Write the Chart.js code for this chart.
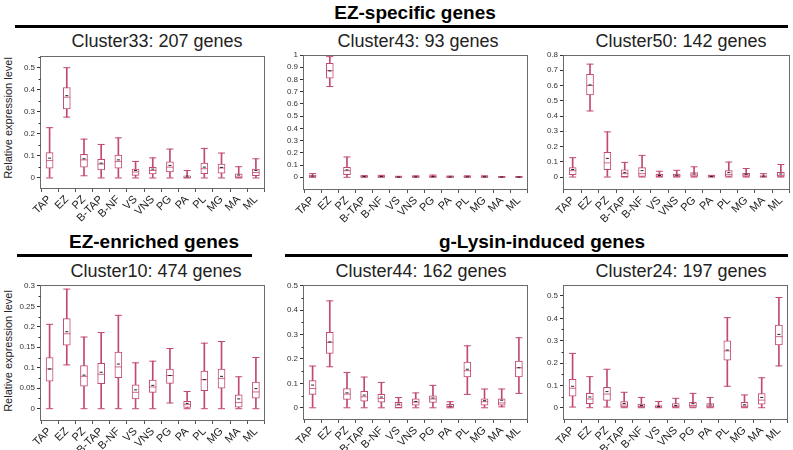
<!DOCTYPE html>
<html><head><meta charset="utf-8">
<script src="https://cdn.jsdelivr.net/npm/chart.js@4.4.1/dist/chart.umd.min.js"></script>
<style>
html,body{margin:0;padding:0;background:#fff;}
#wrap{position:relative;width:793px;height:450px;overflow:hidden;font-family:'Liberation Sans',Arial,sans-serif;}
.hdr{position:absolute;font-weight:bold;font-size:19px;line-height:1;color:#000;white-space:nowrap;transform:translate(-50%,-50%);}
.rule{position:absolute;height:3px;background:#000;}
.ttl{position:absolute;font-size:18px;line-height:1;color:#222;white-space:nowrap;transform:translate(-50%,-50%);}
.ylab{position:absolute;font-size:11px;line-height:1;color:#222;white-space:nowrap;transform:translate(-50%,-50%) rotate(-90deg);}
canvas{position:absolute;}
</style></head>
<body><div id="wrap">
<div class="hdr" style="left:415px;top:12px;">EZ-specific genes</div>
<div class="rule" style="left:15px;top:25px;width:773px;"></div>
<div class="hdr" style="left:154px;top:241px;">EZ-enriched genes</div>
<div class="rule" style="left:17px;top:254px;width:235px;"></div>
<div class="hdr" style="left:542px;top:241px;">g-Lysin-induced genes</div>
<div class="rule" style="left:285px;top:254px;width:503px;"></div>
<div class="ttl" style="left:157px;top:41px;">Cluster33: 207 genes</div>
<div class="ttl" style="left:418px;top:41px;">Cluster43: 93 genes</div>
<div class="ttl" style="left:681px;top:41px;">Cluster50: 142 genes</div>
<div class="ttl" style="left:156px;top:271px;">Cluster10: 474 genes</div>
<div class="ttl" style="left:421px;top:271px;">Cluster44: 162 genes</div>
<div class="ttl" style="left:681px;top:271px;">Cluster24: 197 genes</div>
<div class="ylab" style="left:8px;top:118px;">Relative expression level</div>
<div class="ylab" style="left:8px;top:351px;">Relative expression level</div>
</div>
<script>
// ---------- DATA ----------
const CATEGORIES = ['TAP','EZ','PZ','B-TAP','B-NF','VS','VNS','PG','PA','PL','MG','MA','ML'];

// Cluster33
const C33_MAX  = [0.228,0.500,0.176,0.152,0.182,0.075,0.091,0.131,0.034,0.134,0.113,0.051,0.087];
const C33_Q3   = [0.115,0.410,0.107,0.085,0.104,0.040,0.048,0.073,0.010,0.067,0.063,0.019,0.040];
const C33_MED  = [0.079,0.366,0.082,0.063,0.075,0.027,0.034,0.049,0.002,0.042,0.045,0.004,0.025];
const C33_MEAN = [0.090,0.373,0.087,0.067,0.082,0.034,0.040,0.057,0.008,0.049,0.048,0.013,0.034];
const C33_Q1   = [0.045,0.313,0.049,0.037,0.045,0.012,0.018,0.027,0.000,0.019,0.022,0.000,0.010];
const C33_MIN  = [0.000,0.276,0.010,0.000,0.000,0.000,0.000,0.000,0.000,0.000,0.000,0.000,0.000];

// Cluster43
const C43_MAX  = [0.030,0.986,0.166,0.014,0.016,0.008,0.012,0.018,0.010,0.012,0.012,0.006,0.006];
const C43_Q3   = [0.016,0.932,0.082,0.010,0.012,0.004,0.008,0.012,0.007,0.008,0.008,0.004,0.004];
const C43_MED  = [0.003,0.872,0.054,0.004,0.005,0.001,0.002,0.005,0.002,0.003,0.003,0.001,0.001];
const C43_MEAN = [0.010,0.870,0.060,0.006,0.007,0.002,0.004,0.006,0.003,0.004,0.004,0.002,0.002];
const C43_Q1   = [0.000,0.810,0.022,0.000,0.000,0.000,0.000,0.000,0.000,0.000,0.000,0.000,0.000];
const C43_MIN  = [0.000,0.742,0.000,0.000,0.000,0.000,0.000,0.000,0.000,0.000,0.000,0.000,0.000];

// Cluster50
const C50_MAX  = [0.127,0.740,0.296,0.096,0.142,0.038,0.044,0.067,0.011,0.098,0.056,0.022,0.082];
const C50_Q3   = [0.062,0.673,0.162,0.047,0.062,0.018,0.020,0.029,0.009,0.042,0.024,0.009,0.031];
const C50_MED  = [0.042,0.600,0.093,0.022,0.022,0.004,0.007,0.013,0.002,0.016,0.013,0.002,0.011];
const C50_MEAN = [0.049,0.604,0.122,0.029,0.042,0.010,0.012,0.020,0.004,0.029,0.018,0.006,0.020];
const C50_Q1   = [0.016,0.538,0.049,0.002,0.000,0.000,0.000,0.000,0.000,0.000,0.000,0.000,0.000];
const C50_MIN  = [0.000,0.433,0.000,0.000,0.000,0.000,0.000,0.000,0.000,0.000,0.000,0.000,0.000];

// Cluster10
const C10_MAX  = [0.206,0.292,0.175,0.186,0.228,0.112,0.116,0.147,0.042,0.160,0.164,0.078,0.125];
const C10_Q3   = [0.125,0.220,0.105,0.111,0.138,0.058,0.070,0.097,0.018,0.092,0.097,0.034,0.065];
const C10_MED  = [0.097,0.183,0.079,0.084,0.102,0.040,0.053,0.081,0.010,0.071,0.074,0.015,0.041];
const C10_MEAN = [0.097,0.188,0.082,0.089,0.109,0.046,0.057,0.081,0.013,0.071,0.079,0.024,0.049];
const C10_Q1   = [0.067,0.155,0.055,0.061,0.076,0.024,0.040,0.062,0.003,0.044,0.050,0.004,0.026];
const C10_MIN  = [0.000,0.107,0.000,0.000,0.000,0.000,0.000,0.014,0.000,0.000,0.000,0.000,0.000];

// Cluster44
const C44_MAX  = [0.171,0.438,0.145,0.126,0.104,0.042,0.061,0.092,0.025,0.254,0.077,0.077,0.287];
const C44_Q3   = [0.111,0.309,0.079,0.067,0.055,0.022,0.037,0.049,0.014,0.187,0.037,0.037,0.191];
const C44_MED  = [0.079,0.268,0.056,0.045,0.038,0.011,0.023,0.036,0.004,0.152,0.025,0.020,0.164];
const C44_MEAN = [0.093,0.270,0.061,0.052,0.044,0.015,0.026,0.040,0.007,0.158,0.029,0.031,0.164];
const C44_Q1   = [0.055,0.223,0.034,0.027,0.023,0.001,0.011,0.022,0.000,0.126,0.011,0.011,0.126];
const C44_MIN  = [0.000,0.168,0.000,0.000,0.000,0.000,0.000,0.000,0.000,0.055,0.000,0.004,0.059];

// Cluster24
const C24_MAX  = [0.243,0.139,0.172,0.069,0.046,0.028,0.042,0.064,0.046,0.403,0.057,0.134,0.493];
const C24_Q3   = [0.127,0.064,0.091,0.027,0.016,0.010,0.018,0.024,0.018,0.299,0.024,0.063,0.370];
const C24_MED  = [0.087,0.039,0.061,0.012,0.006,0.003,0.006,0.010,0.007,0.254,0.007,0.034,0.318];
const C24_MEAN = [0.096,0.048,0.072,0.019,0.010,0.005,0.010,0.018,0.012,0.258,0.013,0.046,0.328];
const C24_Q1   = [0.052,0.018,0.033,0.004,0.000,0.000,0.000,0.000,0.000,0.213,0.000,0.016,0.281];
const C24_MIN  = [0.003,0.000,0.003,0.000,0.000,0.000,0.000,0.000,0.000,0.096,0.000,0.000,0.187];

// Tick values and labels
const TICKS_05 = [0,0.1,0.2,0.3,0.4,0.5];
const LABELS_05 = ['0','0.1','0.2','0.3','0.4','0.5'];
const MINOR_055 = [0.05,0.15,0.25,0.35,0.45,0.55];
const TICKS_10 = [0,0.1,0.2,0.3,0.4,0.5,0.6,0.7,0.8,0.9,1];
const LABELS_10 = ['0','0.1','0.2','0.3','0.4','0.5','0.6','0.7','0.8','0.9','1'];
const TICKS_08 = [0,0.1,0.2,0.3,0.4,0.5,0.6,0.7,0.8];
const LABELS_08 = ['0','0.1','0.2','0.3','0.4','0.5','0.6','0.7','0.8'];
const TICKS_03 = [0,0.05,0.1,0.15,0.2,0.25,0.3];
const LABELS_03 = ['0','0.05','0.1','0.15','0.2','0.25','0.3'];
const MINOR_03 = [0.025,0.075,0.125,0.175,0.225,0.275];

// ---------- LAYOUT / STYLE ----------
const FONT = "'Liberation Sans', Arial, sans-serif";
const BOX = '#c24a6e';
const MEDC = 'rgba(200,90,125,0.9)';
const MEANC = '#222';
const YW = 40, XH = 45, PT = 10, PR = 4;

const panels = [
  {rect:[41,56,265,189],  ymin:-0.05, ymax:0.553, ticks:TICKS_05, labels:LABELS_05, minor:MINOR_055,
   d:[C33_MIN,C33_Q1,C33_MED,C33_Q3,C33_MAX,C33_MEAN]},
  {rect:[304,55,528,190], ymin:-0.104, ymax:1.0, ticks:TICKS_10, labels:LABELS_10, minor:[],
   d:[C43_MIN,C43_Q1,C43_MED,C43_Q3,C43_MAX,C43_MEAN]},
  {rect:[564,55,790,190], ymin:-0.085, ymax:0.8, ticks:TICKS_08, labels:LABELS_08, minor:[],
   d:[C50_MIN,C50_Q1,C50_MED,C50_Q3,C50_MAX,C50_MEAN]},
  {rect:[41,285,265,421], ymin:-0.03, ymax:0.302, ticks:TICKS_03, labels:LABELS_03, minor:MINOR_03,
   d:[C10_MIN,C10_Q1,C10_MED,C10_Q3,C10_MAX,C10_MEAN]},
  {rect:[304,285,528,420], ymin:-0.05, ymax:0.503, ticks:TICKS_05, labels:LABELS_05, minor:MINOR_055.slice(0,5),
   d:[C44_MIN,C44_Q1,C44_MED,C44_Q3,C44_MAX,C44_MEAN]},
  {rect:[564,285,788,420], ymin:-0.055, ymax:0.549, ticks:TICKS_05, labels:LABELS_05, minor:MINOR_055.slice(0,5),
   d:[C24_MIN,C24_Q1,C24_MED,C24_Q3,C24_MAX,C24_MEAN]}
];

const framePlugin = {
  id: 'frame',
  afterDraw(chart, args, opts) {
    const ctx = chart.ctx, a = chart.chartArea, ys = chart.scales.y;
    ctx.save();
    ctx.strokeStyle = '#6b6b6b';
    ctx.lineWidth = 1;
    const x0 = Math.round(a.left) - 0.5, y0 = Math.round(a.top) + 0.5;
    const x1 = Math.round(a.right) - 0.5, y1 = Math.round(a.bottom) - 0.5;
    ctx.strokeRect(x0, y0, x1 - x0, y1 - y0);
    ctx.strokeStyle = '#333';
    (opts.minor || []).forEach(v => {
      const py = Math.round(ys.getPixelForValue(v)) + 0.5;
      ctx.beginPath(); ctx.moveTo(x0 - 2, py); ctx.lineTo(x0, py); ctx.stroke();
    });
    ctx.restore();
  }
};

const wrap = document.getElementById('wrap');
Chart.defaults.font.family = FONT;

panels.forEach(p => {
  const [L, T, R, B] = p.rect;
  const cv = document.createElement('canvas');
  const W = (R - L) + YW + PR, H = (B - T) + PT + XH;
  cv.width = W; cv.height = H;
  cv.style.left = (L - YW) + 'px';
  cv.style.top = (T - PT) + 'px';
  cv.style.width = W + 'px'; cv.style.height = H + 'px';
  wrap.appendChild(cv);
  const [mn, q1, med, q3, mx, mean] = p.d;
  const pt = (data, color, r) => ({
    type: 'line', data, showLine: false, pointStyle: 'line',
    pointRadius: r, pointHoverRadius: r, pointBorderColor: color, pointBackgroundColor: color,
    pointBorderWidth: 1, borderColor: color
  });
  new Chart(cv, {
    type: 'bar',
    data: {
      labels: CATEGORIES,
      datasets: [
        Object.assign(pt(mean, MEANC, 1.5), {order: -1}),
        Object.assign(pt(med, MEDC, 3.5), {order: 0}),
        Object.assign(pt(mx, BOX, 3.5), {order: 1}),
        Object.assign(pt(mn, BOX, 3.5), {order: 1}),
        {type: 'bar', data: CATEGORIES.map((_, i) => [q1[i], q3[i]]), backgroundColor: '#fff',
         borderColor: BOX, borderWidth: 1, borderSkipped: false, barThickness: 7, grouped: false, order: 2},
        {type: 'bar', data: CATEGORIES.map((_, i) => [mn[i], mx[i]]), backgroundColor: BOX,
         borderWidth: 0, barThickness: 1, grouped: false, order: 3}
      ]
    },
    options: {
      responsive: false, devicePixelRatio: 1, animation: false, events: [],
      layout: {padding: {top: PT, right: PR, left: 0, bottom: 0}},
      plugins: {legend: {display: false}, tooltip: {enabled: false}, frame: {minor: p.minor}},
      scales: {
        x: {
          type: 'category', offset: true,
          grid: {offset: true, drawOnChartArea: false, tickLength: 3, color: '#555'},
          border: {display: false},
          ticks: {autoSkip: false, minRotation: 45, maxRotation: 45, padding: 1,
                  color: '#222', font: {size: 11, family: FONT}},
          afterFit: s => { s.height = XH; }
        },
        y: {
          min: p.ymin, max: p.ymax,
          grid: {drawOnChartArea: false, tickLength: 4, color: '#333'},
          border: {display: false},
          afterBuildTicks: s => { s.ticks = p.ticks.map(v => ({value: v})); },
          ticks: {autoSkip: false, padding: 2, color: '#333', font: {size: 8, family: FONT},
                  callback: (v) => { const i = p.ticks.indexOf(v); return i >= 0 ? p.labels[i] : ''; }},
          afterFit: s => { s.width = YW; }
        }
      }
    },
    plugins: [framePlugin]
  });
});
</script>
</body></html>
